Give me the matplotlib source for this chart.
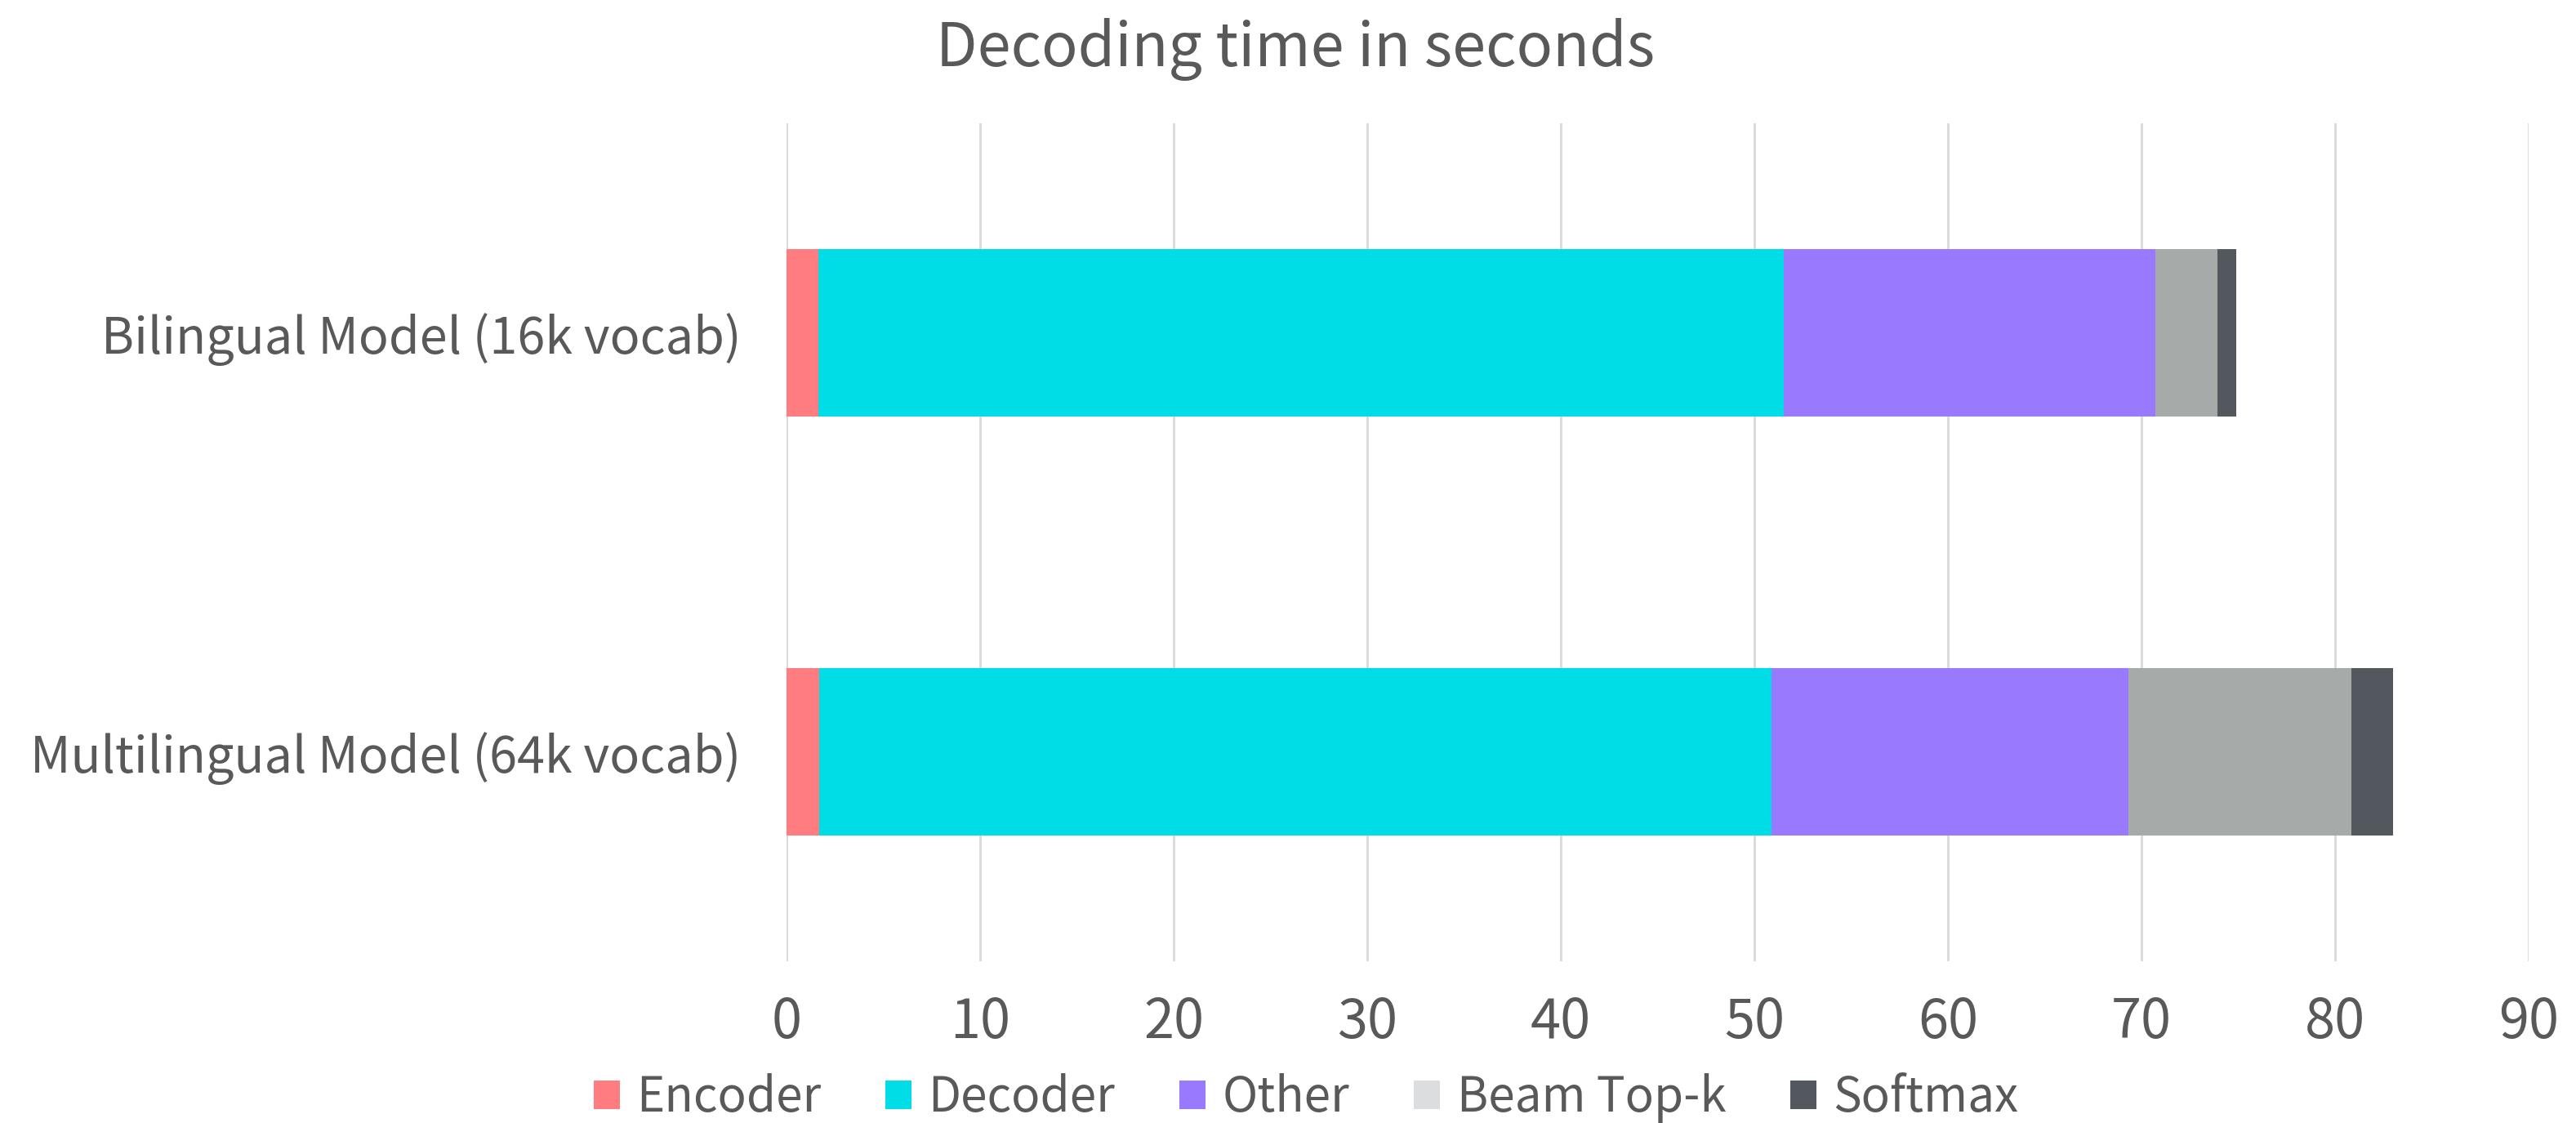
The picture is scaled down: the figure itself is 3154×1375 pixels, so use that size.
import matplotlib.pyplot as plt
from matplotlib.patches import Patch

plt.rcParams['font.family'] = ['Noto Sans CJK KR', 'DejaVu Sans']

modelos = ["Bilingual Model (16k vocab)", "Multilingual Model (64k vocab)"]
partes = ["Encoder", "Decoder", "Other", "Beam Top-k", "Softmax"]

# tempo de cada etapa (segundos), uma lista por etapa
encoder = [1.66, 1.69]
decoder = [49.88, 49.20]
other = [19.19, 18.45]
beam_topk = [3.21, 11.49]
softmax = [0.96, 2.15]

cores_barra = ["#ff7c80", "#00dde6", "#9979fe", "#a6aaa9", "#53585f"]
cores_legenda = ["#ff7c80", "#00dde6", "#9979fe", "#dcdddf", "#53585f"]
cinza_texto = "#595959"

fig = plt.figure(figsize=(31.54, 13.75), dpi=100)
ax = fig.add_axes([0.3053, 0.144, 0.6763, 0.746])

y = [1, 0]  # bilingual em cima
esquerda = [0, 0]
for valores, cor in zip([encoder, decoder, other, beam_topk, softmax], cores_barra):
    ax.barh(y, valores, left=esquerda, height=0.4, color=cor, edgecolor="none", zorder=3)
    esquerda = [a + b for a, b in zip(esquerda, valores)]

ax.set_xlim(0, 90)
ax.set_ylim(-0.5, 1.5)
ax.set_xticks(range(0, 91, 10))
ax.set_yticks(y)
ax.set_yticklabels(modelos)
ax.grid(axis="x", color="#d9d9d9", linewidth=2, zorder=0)
for lado in ax.spines.values():
    lado.set_visible(False)
ax.tick_params(axis="x", length=0, pad=30, labelsize=48, labelcolor=cinza_texto)
ax.tick_params(axis="y", length=0, pad=40, labelsize=44, labelcolor=cinza_texto)

fig.text(0.503, 0.956, "Decoding time in seconds", ha="center", va="center",
         fontsize=53, color=cinza_texto)

alcas = [Patch(facecolor=c, edgecolor="none") for c in cores_legenda]
fig.legend(alcas, partes, loc="center", bbox_to_anchor=(0.507, 0.022), ncol=5,
           frameon=False, fontsize=42, labelcolor=cinza_texto,
           handlelength=0.55, handleheight=0.55, handletextpad=0.35,
           columnspacing=1.35, borderpad=0)

plt.savefig("out.png", dpi=100)
